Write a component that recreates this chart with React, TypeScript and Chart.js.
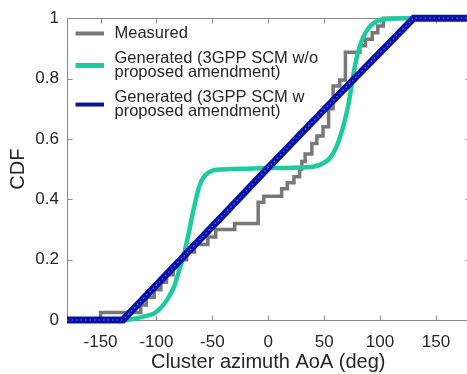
import React, { useEffect, useRef } from 'react';
import { Chart, registerables } from 'chart.js';

Chart.register(...registerables);

// ---- data ----
const measuredX = [-180, -150, -114, -109, -102, -96, -91, -85, -79, -73, -66, -54, -47, -30, -9, -4, 12, 17, 23, 28, 30, 33, 39, 43.5, 49, 54, 58, 64, 69, 82, 87, 93, 98, 103, 180];
const measuredCdf = [0, 0.025, 0.05, 0.075, 0.1, 0.125, 0.15, 0.175, 0.2, 0.225, 0.25, 0.275, 0.3, 0.32, 0.39, 0.41, 0.435, 0.455, 0.475, 0.5, 0.525, 0.55, 0.585, 0.61, 0.64, 0.7, 0.775, 0.795, 0.887, 0.909, 0.93, 0.952, 0.974, 1, 1];

const scmWoX = [-180, -128, -120, -111, -102, -95, -90, -84.5, -80, -75.6, -71, -68, -65, -62, -58, -54, -48, -34, -4, 34, 46, 55, 61, 67, 71.7, 74.7, 77.7, 82, 88, 97, 109, 127, 180];
const scmWoCdf = [0, 0, 0.004, 0.012, 0.022, 0.045, 0.07, 0.108, 0.16, 0.215, 0.29, 0.345, 0.395, 0.44, 0.472, 0.487, 0.497, 0.5, 0.503, 0.506, 0.514, 0.536, 0.574, 0.64, 0.714, 0.78, 0.844, 0.909, 0.958, 0.99, 0.998, 1, 1];

const scmWX = [-180, -130, -34, 0, 55, 130, 180];
const scmWCdf = [0, 0, 0.372, 0.505, 0.716, 1, 1];

const xTicks = [-150, -100, -50, 0, 50, 100, 150];
const yTicks = [0, 0.2, 0.4, 0.6, 0.8, 1];
const xRange = [-180, 180];
const yRange = [0, 1];

const seriesLabels = [
  'Measured',
  'Generated (3GPP SCM w/o\nproposed amendment)',
  'Generated (3GPP SCM w\nproposed amendment)',
];
const xTitle = 'Cluster azimuth AoA (deg)';
const yTitle = 'CDF';

// ---- styles ----
const GRAY = '#777777';
const TEAL = '#1ccc9e';
const BLUE = '#0a12a8';
const AXIS = '#8a8a8a';
const TEXT = '#262626';
const FONT = "'Liberation Sans', Arial, Helvetica, sans-serif";

const toPoints = (xs: number[], ys: number[]) => xs.map((x, i) => ({ x, y: ys[i] }));

const legendItems = [
  { label: seriesLabels[0], color: GRAY, width: 4 },
  { label: seriesLabels[1], color: TEAL, width: 5 },
  { label: seriesLabels[2], color: BLUE, width: 4 },
];

const framePlugin = {
  id: 'matlabFrame',
  beforeDatasetsDraw(chart: any) {
    const { ctx, chartArea: a, scales } = chart;
    ctx.save();
    ctx.strokeStyle = AXIS;
    ctx.lineWidth = 1;
    ctx.beginPath();
    const L = Math.round(a.left) + 0.5;
    const R = Math.round(a.right) + 0.5;
    const T = Math.round(a.top) + 0.5;
    const B = Math.round(a.bottom) + 0.5;
    ctx.moveTo(L, T);
    ctx.lineTo(R, T);
    ctx.lineTo(R, B);
    ctx.lineTo(L, B);
    ctx.closePath();
    const tl = 5;
    for (const v of xTicks) {
      const px = Math.round(scales.x.getPixelForValue(v)) + 0.5;
      ctx.moveTo(px, B);
      ctx.lineTo(px, B - tl);
      ctx.moveTo(px, T);
      ctx.lineTo(px, T + tl);
    }
    for (const v of yTicks) {
      const py = Math.round(scales.y.getPixelForValue(v)) + 0.5;
      ctx.moveTo(L, py);
      ctx.lineTo(L + tl, py);
      ctx.moveTo(R, py);
      ctx.lineTo(R - tl, py);
    }
    ctx.stroke();
    ctx.restore();
  },
  afterDatasetsDraw(chart: any) {
    const { ctx, chartArea: a } = chart;
    ctx.save();
    ctx.font = `16.5px ${FONT}`;
    ctx.fillStyle = TEXT;
    ctx.textBaseline = 'alphabetic';
    ctx.textAlign = 'left';
    const lineGap = 14.3;
    const itemGap = 10.5;
    let baseline = a.top + 19.7;
    const sx0 = a.left + 8.5;
    const sx1 = a.left + 37;
    const tx = a.left + 47.5;
    for (const item of legendItems) {
      const lines = item.label.split('\n');
      const sy = baseline + ((lines.length - 1) * lineGap) / 2 - 4.4;
      ctx.strokeStyle = item.color;
      ctx.lineWidth = item.width;
      ctx.lineCap = 'butt';
      ctx.beginPath();
      ctx.moveTo(sx0, sy);
      ctx.lineTo(sx1, sy);
      ctx.stroke();
      lines.forEach((ln, i) => ctx.fillText(ln, tx, baseline + i * lineGap));
      baseline += lines.length * lineGap + itemGap;
    }
    ctx.restore();
  },
};

export default function App() {
  const ref = useRef<HTMLCanvasElement | null>(null);

  useEffect(() => {
    const canvas = ref.current;
    if (!canvas) return;
    const chart = new Chart(canvas, {
      type: 'line',
      data: {
        datasets: [
          {
            label: seriesLabels[0],
            data: toPoints(measuredX, measuredCdf),
            borderColor: GRAY,
            borderWidth: 3.5,
            stepped: 'before',
            pointRadius: 0,
            fill: false,
            clip: false,
            order: 3,
          } as any,
          {
            label: seriesLabels[1],
            data: toPoints(scmWoX, scmWoCdf),
            borderColor: TEAL,
            borderWidth: 4.5,
            cubicInterpolationMode: 'monotone',
            pointRadius: 0,
            fill: false,
            clip: false,
            order: 2,
          },
          {
            label: seriesLabels[2],
            data: toPoints(scmWX, scmWCdf),
            borderColor: BLUE,
            borderWidth: 7,
            pointRadius: 0,
            fill: false,
            clip: false,
            order: 1,
          },
          {
            label: seriesLabels[2] + ' (texture)',
            data: toPoints(scmWX, scmWCdf),
            borderColor: 'rgba(170,185,255,0.55)',
            borderWidth: 1.2,
            borderDash: [1.5, 3],
            pointRadius: 0,
            fill: false,
            clip: false,
            order: 0,
          },
        ],
      },
      options: {
        animation: false,
        responsive: false,
        events: [],
        layout: { padding: { top: 12, right: 10.5, left: 0, bottom: 0 } },
        plugins: { legend: { display: false }, tooltip: { enabled: false } },
        scales: {
          x: {
            type: 'linear',
            min: xRange[0],
            max: xRange[1],
            afterBuildTicks: (s: any) => {
              s.ticks = xTicks.map((v) => ({ value: v }));
            },
            afterFit: (s: any) => {
              s.height = 54;
            },
            grid: { display: false, drawTicks: false },
            border: { display: false },
            ticks: {
              padding: 12,
              color: TEXT,
              font: { size: 17, family: FONT },
              maxRotation: 0,
              autoSkip: false,
              callback: (v: any) => String(v),
            },
            title: {
              display: true,
              text: xTitle,
              color: TEXT,
              font: { size: 20, family: FONT },
              padding: { top: 0, bottom: 0 },
            },
          },
          y: {
            type: 'linear',
            min: yRange[0],
            max: yRange[1],
            afterBuildTicks: (s: any) => {
              s.ticks = yTicks.map((v) => ({ value: v }));
            },
            afterFit: (s: any) => {
              s.width = 67;
            },
            grid: { display: false, drawTicks: false },
            border: { display: false },
            ticks: {
              padding: 8,
              color: TEXT,
              font: { size: 17, family: FONT },
              autoSkip: false,
              callback: (v: any) => String(v),
            },
            title: {
              display: true,
              text: yTitle,
              color: TEXT,
              font: { size: 20, family: FONT },
              padding: { top: 6, bottom: 0 },
            },
          },
        },
      },
      plugins: [framePlugin],
    });
    return () => chart.destroy();
  }, []);

  return (
    <div style={{ position: 'fixed', left: 0, top: 0, width: 480, height: 374, overflow: 'hidden', background: '#fff' }}>
      <canvas ref={ref} width={480} height={374} style={{ display: 'block', width: 480, height: 374 }} />
    </div>
  );
}
